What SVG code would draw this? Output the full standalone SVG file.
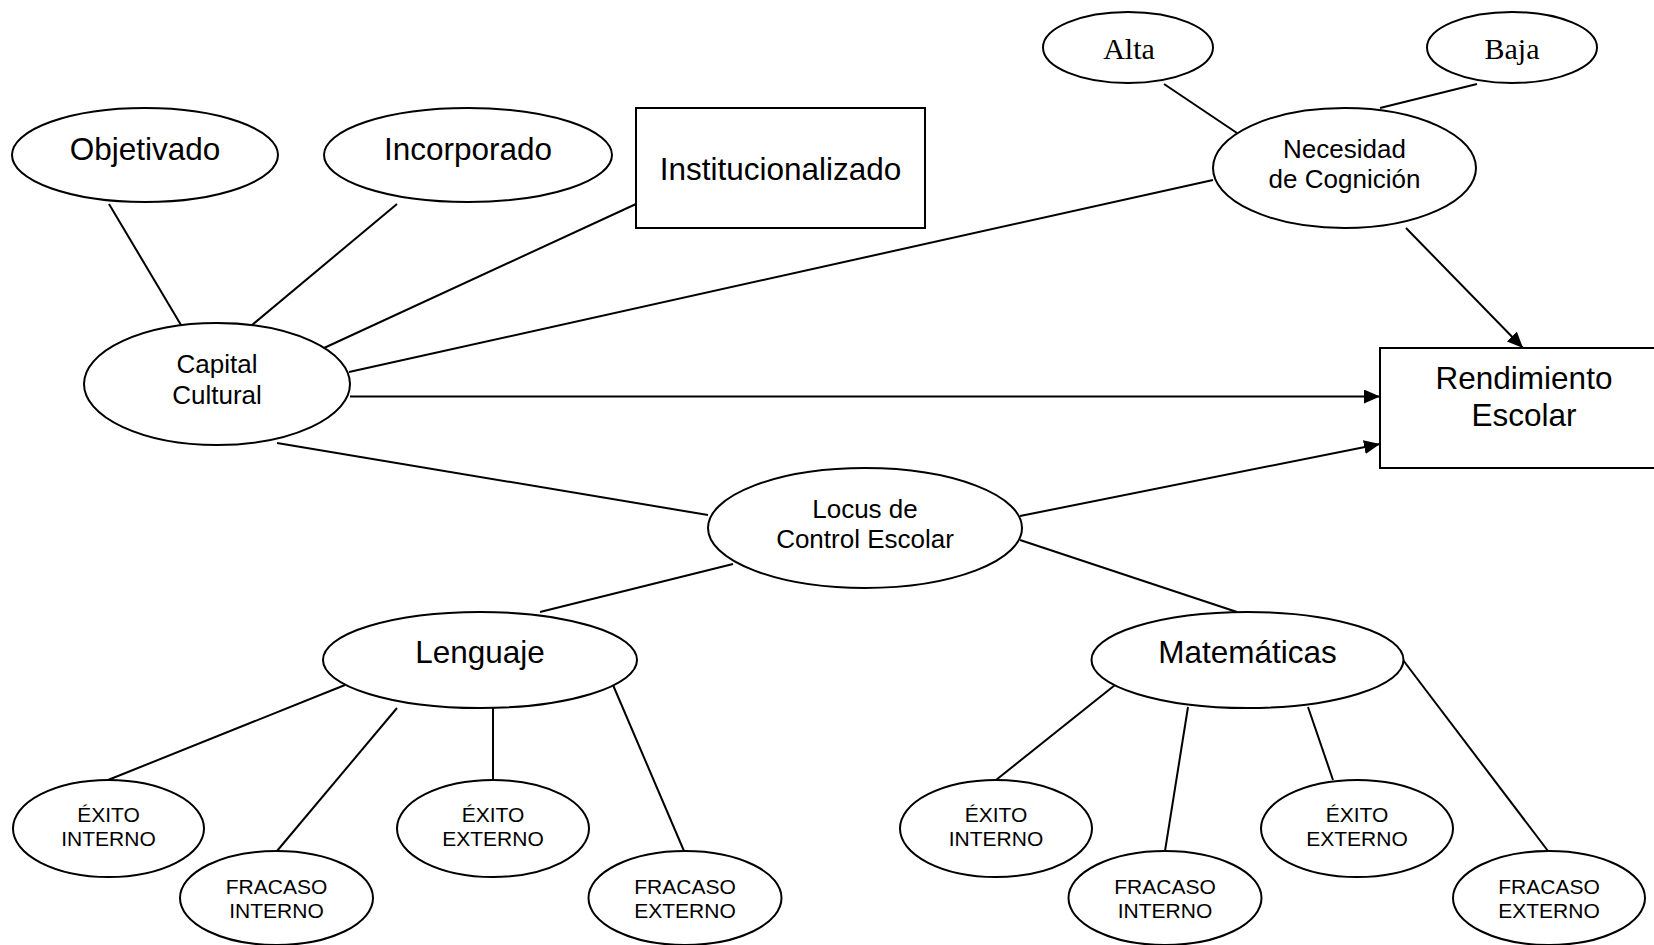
<svg xmlns="http://www.w3.org/2000/svg" width="1654" height="945" viewBox="0 0 1654 945">
<defs>
<style>
.n{fill:#fff;stroke:#000;stroke-width:2}
.c{stroke:#000;stroke-width:2;fill:none}
.t{font-family:"Liberation Sans",Arial,sans-serif;fill:#000;text-anchor:middle}
.b{font-size:31.5px}
.m{font-size:26px}
.s{font-size:21px}
.r{font-family:"Liberation Serif","Times New Roman",serif;font-size:30px;fill:#000;text-anchor:middle}
</style>
<marker id="ah" markerUnits="userSpaceOnUse" markerWidth="16" markerHeight="14" refX="16" refY="7" orient="auto">
<path d="M0,0 L16,7 L0,14 z" fill="#000"/>
</marker>
</defs>
<rect width="1654" height="945" fill="#fff"/>
<g id="connectors">
<line class="c" x1="109" y1="204" x2="181" y2="325"/>
<line class="c" x1="397" y1="204" x2="252" y2="325"/>
<line class="c" x1="636" y1="204" x2="324" y2="348"/>
<line class="c" x1="1213" y1="180" x2="349" y2="372"/>
<line class="c" x1="1164" y1="84" x2="1237" y2="133"/>
<line class="c" x1="1477" y1="84" x2="1380" y2="108"/>
<line class="c" x1="350" y1="396.5" x2="1380" y2="396.5" marker-end="url(#ah)"/>
<line class="c" x1="1406" y1="228" x2="1523" y2="348" marker-end="url(#ah)"/>
<line class="c" x1="1020" y1="516" x2="1380" y2="444" marker-end="url(#ah)"/>
<line class="c" x1="277" y1="443" x2="708" y2="515"/>
<line class="c" x1="733" y1="564" x2="540" y2="612"/>
<line class="c" x1="1020" y1="540" x2="1237" y2="612"/>
<line class="c" x1="345" y1="685" x2="108" y2="780"/>
<line class="c" x1="397" y1="708" x2="277" y2="851"/>
<line class="c" x1="493" y1="708" x2="493" y2="780"/>
<line class="c" x1="613" y1="685" x2="684" y2="851"/>
<line class="c" x1="1115" y1="685" x2="996" y2="780"/>
<line class="c" x1="1188" y1="707" x2="1165" y2="851"/>
<line class="c" x1="1308" y1="707" x2="1333" y2="780"/>
<line class="c" x1="1403" y1="660" x2="1548" y2="851"/>
</g>
<g id="objetivado">
<ellipse class="n" cx="145" cy="155" rx="133" ry="47"/>
<text class="t b" x="145" y="160">Objetivado</text>
</g>
<g id="incorporado">
<ellipse class="n" cx="468" cy="155" rx="144" ry="47"/>
<text class="t b" x="468" y="160">Incorporado</text>
</g>
<g id="institucionalizado">
<rect class="n" x="636" y="108" width="289" height="120"/>
<text class="t b" x="780.5" y="180">Institucionalizado</text>
</g>
<g id="capital-cultural">
<ellipse class="n" cx="217" cy="384" rx="133" ry="61"/>
<text class="t m" x="217" y="373">Capital</text>
<text class="t m" x="217" y="404">Cultural</text>
</g>
<g id="alta">
<ellipse class="n" cx="1128" cy="47.5" rx="85" ry="35.5"/>
<text class="r" x="1129" y="59">Alta</text>
</g>
<g id="baja">
<ellipse class="n" cx="1512" cy="47.5" rx="85" ry="35.5"/>
<text class="r" x="1512" y="59">Baja</text>
</g>
<g id="necesidad-cognicion">
<ellipse class="n" cx="1344.5" cy="168" rx="131.5" ry="60"/>
<text class="t m" x="1344.5" y="158">Necesidad</text>
<text class="t m" x="1344.5" y="188">de Cognición</text>
</g>
<g id="rendimiento-escolar">
<rect class="n" x="1380" y="348" width="290" height="120"/>
<text class="t b" x="1524" y="389">Rendimiento</text>
<text class="t b" x="1524" y="426">Escolar</text>
</g>
<g id="locus-control">
<ellipse class="n" cx="865" cy="528" rx="157" ry="60"/>
<text class="t m" x="865" y="518">Locus de</text>
<text class="t m" x="865" y="548">Control Escolar</text>
</g>
<g id="lenguaje">
<ellipse class="n" cx="480" cy="660" rx="157" ry="48"/>
<text class="t b" x="480" y="663">Lenguaje</text>
</g>
<g id="matematicas">
<ellipse class="n" cx="1247.5" cy="660" rx="156" ry="48"/>
<text class="t b" x="1247.5" y="663">Matemáticas</text>
</g>
<g id="l-exito-interno">
<ellipse class="n" cx="108.5" cy="828.5" rx="95.5" ry="48.5"/>
<text class="t s" x="108.5" y="822">ÉXITO</text>
<text class="t s" x="108.5" y="846">INTERNO</text>
</g>
<g id="l-fracaso-interno">
<ellipse class="n" cx="276.5" cy="898" rx="96.5" ry="47"/>
<text class="t s" x="276.5" y="894">FRACASO</text>
<text class="t s" x="276.5" y="918">INTERNO</text>
</g>
<g id="l-exito-externo">
<ellipse class="n" cx="493" cy="828.5" rx="96" ry="48.5"/>
<text class="t s" x="493" y="822">ÉXITO</text>
<text class="t s" x="493" y="846">EXTERNO</text>
</g>
<g id="l-fracaso-externo">
<ellipse class="n" cx="685" cy="898" rx="96.5" ry="47"/>
<text class="t s" x="685" y="894">FRACASO</text>
<text class="t s" x="685" y="918">EXTERNO</text>
</g>
<g id="m-exito-interno">
<ellipse class="n" cx="996" cy="828.5" rx="96" ry="48.5"/>
<text class="t s" x="996" y="822">ÉXITO</text>
<text class="t s" x="996" y="846">INTERNO</text>
</g>
<g id="m-fracaso-interno">
<ellipse class="n" cx="1165" cy="898" rx="96.5" ry="47"/>
<text class="t s" x="1165" y="894">FRACASO</text>
<text class="t s" x="1165" y="918">INTERNO</text>
</g>
<g id="m-exito-externo">
<ellipse class="n" cx="1357" cy="828.5" rx="96" ry="48.5"/>
<text class="t s" x="1357" y="822">ÉXITO</text>
<text class="t s" x="1357" y="846">EXTERNO</text>
</g>
<g id="m-fracaso-externo">
<ellipse class="n" cx="1549" cy="898" rx="96" ry="47"/>
<text class="t s" x="1549" y="894">FRACASO</text>
<text class="t s" x="1549" y="918">EXTERNO</text>
</g>
</svg>
